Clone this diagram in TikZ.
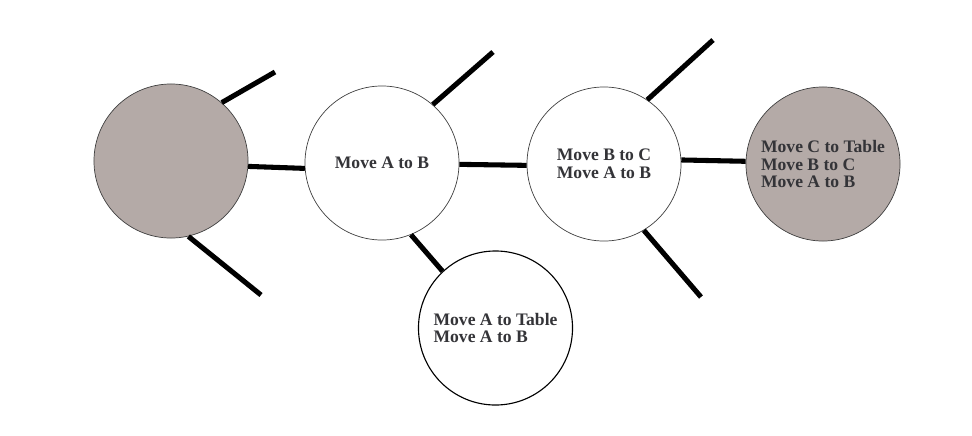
\documentclass[tikz,border=0pt]{standalone}
\usepackage{fontspec}
\setmainfont{Liberation Serif}
\usetikzlibrary{positioning}
\definecolor{stategrey}{RGB}{180,170,167}
\definecolor{labelgrey}{RGB}{52,52,56}
\tikzset{%
	state/.style={circle,draw=black!75,line width=0.5pt,fill=white,
		minimum size=3.85cm,inner sep=0pt,align=left,text=labelgrey,
		font=\bfseries\fontsize{12.5}{12.5}\selectfont},
	goal/.style={state,fill=stategrey},
	branch/.style={line width=3.6pt,black}
}
\begin{document}
\begin{tikzpicture}[x=0.025cm,y=-0.025cm]
	\useasboundingbox (0,0) rectangle (972,435);
	%% states of the plan
	\node[goal] (root) at (171,161) {};
	\node[state] (ab) at (382,163) {Move A to B};
	\node[state] (bc) at (604,164) {Move B to C\\Move A to B};
	\node[goal] (ct) at (823,164) {Move C to Table\\Move B to C\\Move A to B};
	\node[state,draw=black,line width=0.8pt] (at) at (495.5,328) {Move A to Table\\Move A to B};
	
	%% loose ends of the branches
	\coordinate (rootup) at (275,72);
	\coordinate (rootdown) at (261,295);
	\coordinate (abup) at (493,52);
	\coordinate (bcup) at (713,40);
	\coordinate (bcdown) at (701,297);
	
	%% branches between states
	\draw[branch] (root.-4) -- (ab.184);
	\draw[branch] (ab.-1.5) -- (bc.181.5);
	\draw[branch] (bc.3) -- (ct.178);
	\draw[branch] (ab.-68) -- (at.133);
	
	%% open branches
	\draw[branch] (root.49) -- (rootup);
	\draw[branch] (root.-77) -- (rootdown);
	\draw[branch] (ab.49) -- (abup);
	\draw[branch] (bc.56) -- (bcup);
	\draw[branch] (bc.-59) -- (bcdown);
\end{tikzpicture}
\end{document}
